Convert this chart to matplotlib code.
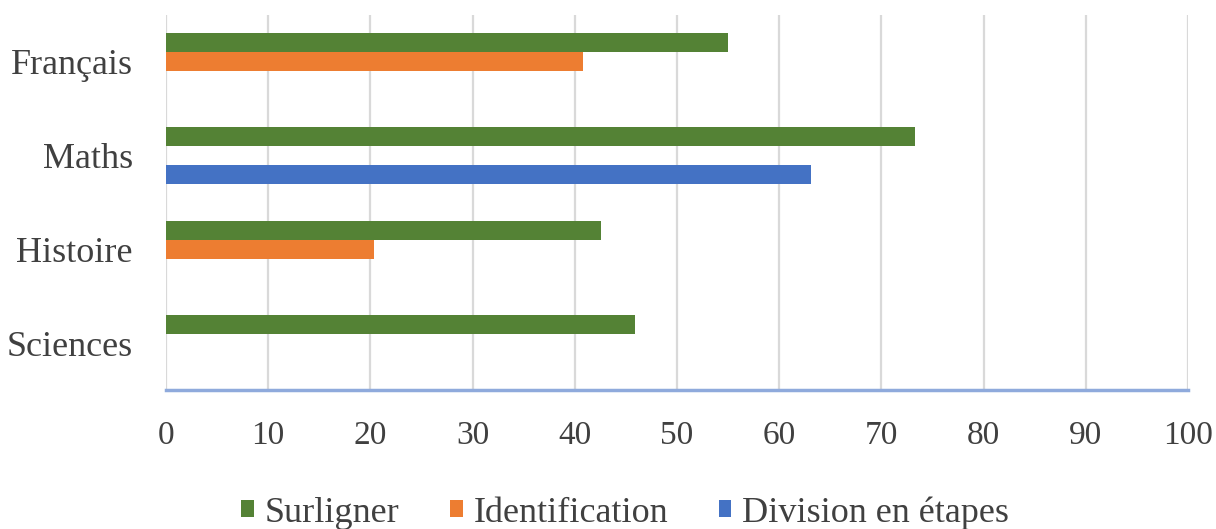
# horizontal clustered bar chart : strategies by subject
import numpy as np
import matplotlib.pyplot as plt

# data (categories listed top to bottom)
matieres = ['Français', 'Maths', 'Histoire', 'Sciences']
surligner = [55, 73.3, 42.6, 45.9]
identification = [40.8, 0, 20.4, 0]
division = [0, 63.1, 0, 0]
x_ticks = [0, 10, 20, 30, 40, 50, 60, 70, 80, 90, 100]

plt.rcParams['font.family'] = ['Liberation Serif', 'DejaVu Serif']

fig = plt.figure(figsize=(12.16, 5.29), dpi=100)
ax = fig.add_axes([0.1365, 0.2628, 0.8405, 0.7088])

y = np.arange(len(matieres))
h = 0.203  # height of one bar

ax.barh(y - h, surligner, height=h, color='#548235', label='Surligner', zorder=3)
ax.barh(y, identification, height=h, color='#ed7d31', label='Identification', zorder=3)
ax.barh(y + h, division, height=h, color='#4472c4', label='Division en étapes', zorder=3)

ax.set_ylim(len(matieres) - 0.5, -0.5)
ax.set_yticks(y)
ax.set_yticklabels(matieres, fontsize=26, color='#404040')
ax.set_xlim(0, 100)
ax.set_xticks(x_ticks)
ax.set_xticklabels([str(t) for t in x_ticks], fontsize=24, color='#404040')
ax.tick_params(axis='both', length=0)
ax.tick_params(axis='y', pad=24)
ax.tick_params(axis='x', pad=22)

# vertical grid lines
ax.grid(axis='x', color='#d9d9d9', linewidth=1.6, zorder=0)
ax.grid(axis='y', visible=False)

for s in ['top', 'right', 'left']:
    ax.spines[s].set_visible(False)
ax.spines['bottom'].set_color('#8faadc')
ax.spines['bottom'].set_linewidth(2.5)
ax.spines['bottom'].set_zorder(4)

fig.legend(loc='center', bbox_to_anchor=(0.514, 0.03), ncol=3, frameon=False,
           fontsize=26, handlelength=0.35, handleheight=0.35, handletextpad=0.3,
           columnspacing=1.4, labelcolor='#404040')

plt.savefig('out.png', dpi=100)
